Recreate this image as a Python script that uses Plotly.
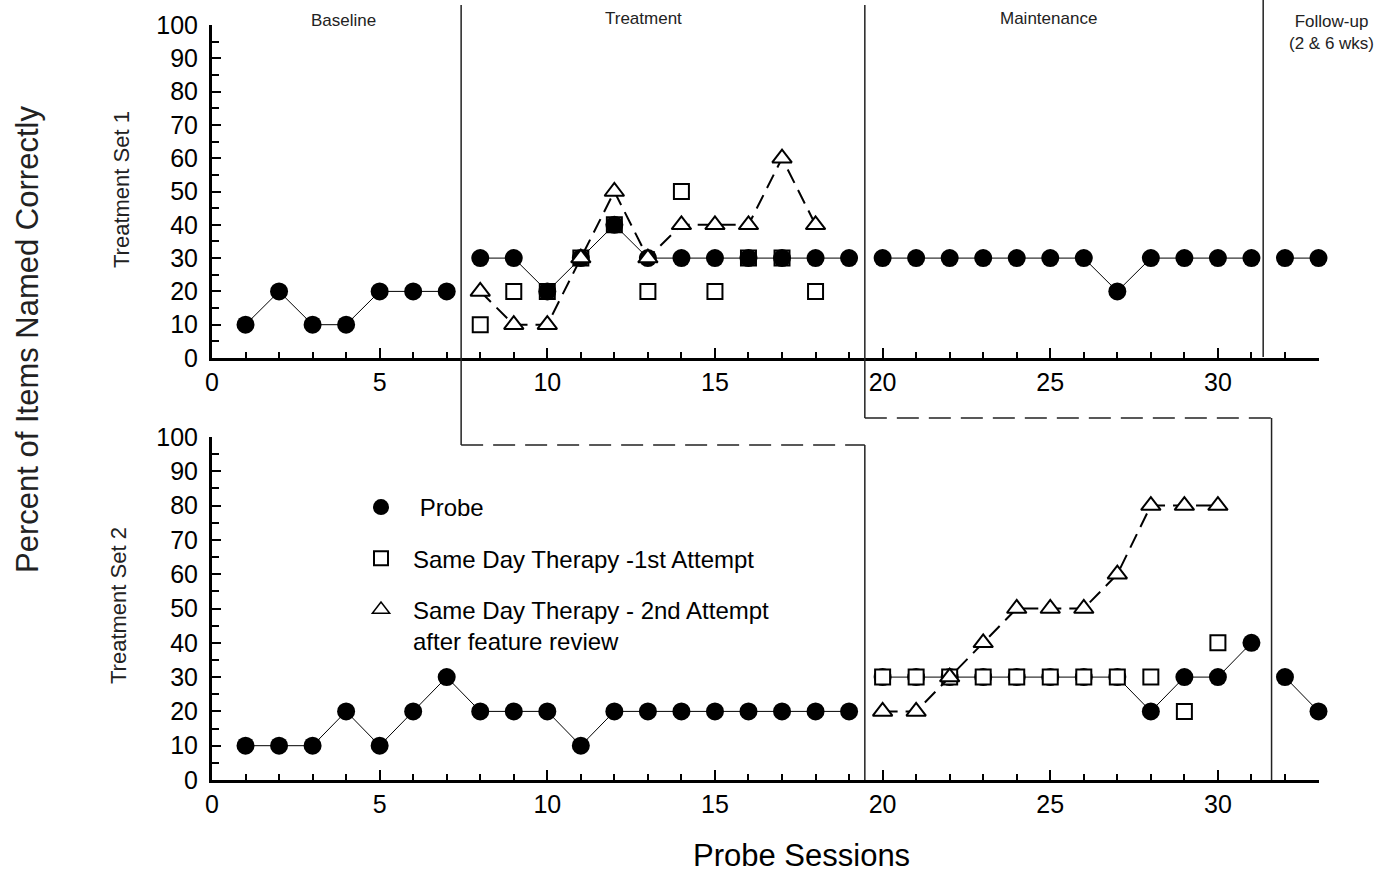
import plotly.graph_objects as go

# ---------------- data ----------------
sessions = list(range(1, 34))

# Treatment Set 1 (top panel)
set1_probe = [10, 20, 10, 10, 20, 20, 20, 30, 30, 20, 30, 40, 30, 30, 30, 30, 30,
              30, 30, 30, 30, 30, 30, 30, 30, 30, 20, 30, 30, 30, 30, 30, 30]
set1_first_sessions = [8, 9, 10, 11, 12, 13, 14, 15, 16, 17, 18]
set1_first = [10, 20, 20, 30, 40, 20, 50, 20, 30, 30, 20]
set1_second_sessions = [8, 9, 10, 11, 12, 13, 14, 15, 16, 17, 18]
set1_second = [20, 10, 10, 30, 50, 30, 40, 40, 40, 60, 40]

# Treatment Set 2 (bottom panel)
set2_probe = [10, 10, 10, 20, 10, 20, 30, 20, 20, 20, 10, 20, 20, 20, 20, 20, 20,
              20, 20, 30, 30, 30, 30, 30, 30, 30, 30, 20, 30, 30, 40, 30, 20]
set2_first_sessions = [20, 21, 22, 23, 24, 25, 26, 27, 28, 29, 30]
set2_first = [30, 30, 30, 30, 30, 30, 30, 30, 30, 20, 40]
set2_second_sessions = [20, 21, 22, 23, 24, 25, 26, 27, 28, 29, 30]
set2_second = [20, 20, 30, 40, 50, 50, 50, 60, 80, 80, 80]

# phase-change positions (in session units)
set1_phase_changes = [7.43, 19.47, 31.35]
set2_phase_changes = [19.47, 31.6]

phase_labels = ["Baseline", "Treatment", "Maintenance", "Follow-up<br>(2 & 6 wks)"]
x_tick_values = [0, 5, 10, 15, 20, 25, 30]
y_tick_values = [0, 10, 20, 30, 40, 50, 60, 70, 80, 90, 100]

legend_names = [" Probe", "Same Day Therapy -1st Attempt",
                "Same Day Therapy - 2nd Attempt<br>after feature review"]

# ---------------- helpers ----------------
W, H = 1397, 875
FONT = "Liberation Sans, Arial, sans-serif"


def px_x(p):
    return p / W


def px_y(p):
    return 1 - p / H


def split_at(xs, ys, breaks):
    ox, oy = [], []
    for i, (x, y) in enumerate(zip(xs, ys)):
        if i > 0 and any(xs[i - 1] < b < x for b in breaks):
            ox.append(None)
            oy.append(None)
        ox.append(x)
        oy.append(y)
    return ox, oy


fig = go.Figure()

probe_marker = dict(symbol="circle", size=18, color="black")
square_marker = dict(symbol="square", size=15, color="white", line=dict(color="black", width=2))
tri_marker = dict(symbol="triangle-up", size=17, color="white", line=dict(color="black", width=2))
tri_line = dict(color="black", width=2, dash="15px,8px")

# ---- top panel: squares under probes, triangles on top ----
fig.add_trace(go.Scatter(x=set1_first_sessions, y=set1_first, mode="markers",
                         marker=square_marker, showlegend=False, cliponaxis=False,
                         xaxis="x", yaxis="y"))
px1, py1 = split_at(sessions, set1_probe, set1_phase_changes)
fig.add_trace(go.Scatter(x=px1, y=py1, mode="lines+markers", marker=probe_marker,
                         line=dict(color="black", width=1), showlegend=False,
                         cliponaxis=False, connectgaps=False, xaxis="x", yaxis="y"))
fig.add_trace(go.Scatter(x=set1_second_sessions, y=set1_second, mode="lines+markers",
                         marker=tri_marker, line=tri_line,
                         showlegend=False, cliponaxis=False, xaxis="x", yaxis="y"))

# ---- bottom panel: probes, squares, triangles ----
px2, py2 = split_at(sessions, set2_probe, set2_phase_changes)
fig.add_trace(go.Scatter(x=px2, y=py2, mode="lines+markers", marker=probe_marker,
                         line=dict(color="black", width=1), showlegend=False,
                         cliponaxis=False, connectgaps=False, xaxis="x2", yaxis="y2"))
fig.add_trace(go.Scatter(x=set2_first_sessions, y=set2_first, mode="markers",
                         marker=square_marker, showlegend=False, cliponaxis=False,
                         xaxis="x2", yaxis="y2"))
fig.add_trace(go.Scatter(x=set2_second_sessions, y=set2_second, mode="lines+markers",
                         marker=tri_marker, line=tri_line,
                         showlegend=False, cliponaxis=False, xaxis="x2", yaxis="y2"))

# ---- legend-only traces ----
legend_markers = [
    dict(symbol="circle", size=18, color="black"),
    dict(symbol="square", size=14, color="white", line=dict(color="black", width=2)),
    dict(symbol="triangle-up", size=15, color="white", line=dict(color="black", width=1.5)),
]
for i, (name, mk) in enumerate(zip(legend_names, legend_markers)):
    fig.add_trace(go.Scatter(x=[None], y=[None], mode="markers", marker=mk, name=name,
                             legendgroup=f"g{i}", showlegend=True, xaxis="x2", yaxis="y2"))

# ---- axes ----
xdom = [px_x(212), px_x(1318.5)]
axis_common = dict(showline=True, linewidth=3, linecolor="black", showgrid=False,
                   zeroline=False, ticks="inside", tickwidth=2, tickcolor="black",
                   automargin=False,
                   tickfont=dict(family=FONT, size=25, color="black"))
xaxis_common = dict(axis_common, range=[0, 33], domain=xdom, tickvals=x_tick_values,
                    ticklen=10, minor=dict(dtick=1, tick0=0, ticklen=6, tickwidth=2,
                                           ticks="inside", tickcolor="black"))
yaxis_common = dict(axis_common, range=[0, 100], tickvals=y_tick_values, ticklen=9,
                    ticklabelstandoff=6,
                    minor=dict(dtick=5, tick0=0, ticklen=7, tickwidth=2,
                               ticks="inside", tickcolor="black"))

fig.update_layout(
    width=W, height=H,
    margin=dict(l=0, r=0, t=0, b=0, autoexpand=False),
    paper_bgcolor="white", plot_bgcolor="white",
    xaxis=dict(xaxis_common, anchor="y"),
    yaxis=dict(yaxis_common, domain=[px_y(358), px_y(25)], anchor="x"),
    xaxis2=dict(xaxis_common, anchor="y2"),
    yaxis2=dict(yaxis_common, domain=[px_y(780), px_y(437)], anchor="x2"),
    legend=dict(x=px_x(349), y=px_y(485), xanchor="left", yanchor="top",
                font=dict(family=FONT, size=24, color="black"),
                bgcolor="rgba(0,0,0,0)", tracegroupgap=17, valign="top",
                itemwidth=54, itemsizing="trace"),
    showlegend=True,
)

# ---- phase-change lines ----
solid = dict(color="#222", width=1.5)
dashed = dict(color="#222", width=1.5, dash="22px,10px")
a, b, c = set1_phase_changes
d, e = set2_phase_changes
shapes = [
    dict(type="line", xref="x", yref="paper", x0=a, x1=a, y0=px_y(5), y1=px_y(445), line=solid),
    dict(type="line", xref="x", yref="paper", x0=a, x1=d, y0=px_y(445), y1=px_y(445), line=dashed),
    dict(type="line", xref="x", yref="paper", x0=d, x1=d, y0=px_y(445), y1=px_y(780), line=solid),
    dict(type="line", xref="x", yref="paper", x0=b, x1=b, y0=px_y(5), y1=px_y(418), line=solid),
    dict(type="line", xref="x", yref="paper", x0=b, x1=e, y0=px_y(418), y1=px_y(418), line=dashed),
    dict(type="line", xref="x", yref="paper", x0=e, x1=e, y0=px_y(418), y1=px_y(780), line=solid),
    dict(type="line", xref="x", yref="paper", x0=c, x1=c, y0=px_y(0), y1=px_y(357), line=solid),
]
fig.update_layout(shapes=shapes)

# ---- text annotations ----
ann = []
phase_pos = [(343, 20), (643, 18), (1048, 18), (1331, 32)]
for lab, (x, y) in zip(phase_labels, phase_pos):
    ann.append(dict(text=lab, x=px_x(x), y=px_y(y), xref="paper", yref="paper",
                    showarrow=False, xanchor="center", yanchor="middle",
                    font=dict(family=FONT, size=17, color="#222")))
ann.append(dict(text="Percent of Items Named Correctly", x=px_x(27), y=px_y(340),
                xref="paper", yref="paper", showarrow=False, textangle=-90,
                xanchor="center", yanchor="middle",
                font=dict(family=FONT, size=31, color="#222")))
ann.append(dict(text="Treatment Set 1", x=px_x(122), y=px_y(190), xref="paper",
                yref="paper", showarrow=False, textangle=-90, xanchor="center",
                yanchor="middle", font=dict(family=FONT, size=22, color="#222")))
ann.append(dict(text="Treatment Set 2", x=px_x(118), y=px_y(606), xref="paper",
                yref="paper", showarrow=False, textangle=-90, xanchor="center",
                yanchor="middle", font=dict(family=FONT, size=22, color="#222")))
ann.append(dict(text="Probe Sessions", x=px_x(801), y=px_y(855), xref="paper",
                yref="paper", showarrow=False, xanchor="center", yanchor="middle",
                font=dict(family=FONT, size=31, color="black")))
fig.update_layout(annotations=ann)

fig.write_html("out.html")
